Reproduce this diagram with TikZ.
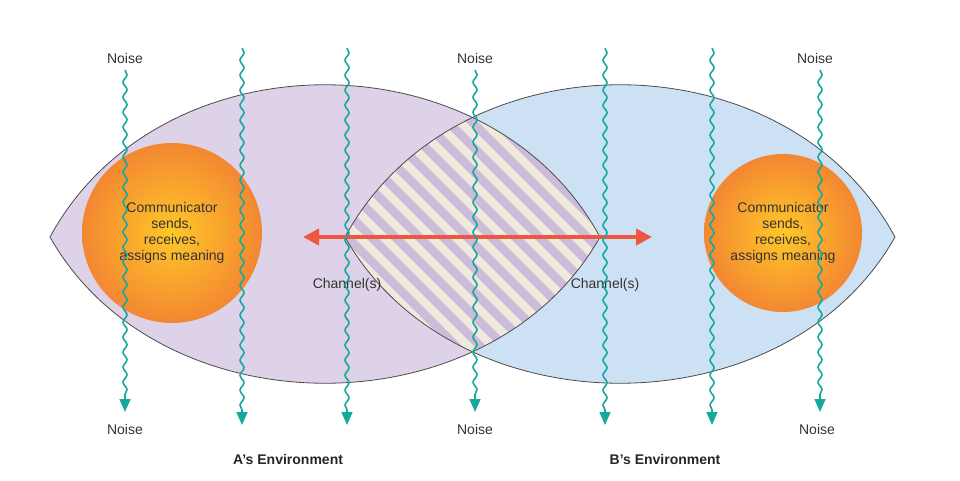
\documentclass[tikz,border=0pt]{standalone}
\usepackage{fontspec}
\setmainfont{Liberation Sans}
\usetikzlibrary{decorations.pathmorphing,arrows.meta}
\definecolor{lensA}{RGB}{221,210,231}
\definecolor{lensB}{RGB}{204,226,244}
\definecolor{stripe}{RGB}{204,188,218}
\definecolor{cream}{RGB}{240,234,222}
\definecolor{teal}{RGB}{22,168,158}
\definecolor{redarrow}{RGB}{238,88,64}
\definecolor{ballin}{RGB}{255,200,40}
\definecolor{ballout}{RGB}{243,135,50}
\begin{document}
\begin{tikzpicture}[x=1pt,y=-1pt,
    lbl/.style={font=\fontsize{14}{16}\selectfont, text=black!80, align=center},
    env/.style={font=\fontsize{14}{16}\selectfont\bfseries, text=black!85},
    noise/.style={teal, line width=1.6pt, -{Triangle[length=13pt,width=11pt]},
        decorate, decoration={snake, amplitude=2pt, segment length=15pt, post length=14pt}},
    ball/.style={circle, inner color=ballin, outer color=ballout}
]
    \useasboundingbox (0,0) rectangle (960,481);
    % Environments
    \def\lensA{(50,237) .. controls (160,34) and (490,34) .. (600,237) .. controls (490,432) and (160,432) .. (50,237) -- cycle}
    \def\lensB{(345,237) .. controls (455,34) and (785,34) .. (895,237) .. controls (785,432) and (455,432) .. (345,237) -- cycle}
    \fill[lensA] \lensA;
    \fill[lensB] \lensB;
    % Channel overlap
    \begin{scope}
        \clip \lensA;
        \clip \lensB;
        \fill[cream] (340,100) rectangle (610,370);
        \foreach \i in {-12,...,20}
            \fill[stripe] (300+\i*24,100) -- ++(12,0) -- ++(300,300) -- ++(-12,0) -- cycle;
    \end{scope}
    \draw[black!70, line width=0.8pt] \lensA;
    \draw[black!70, line width=0.8pt] \lensB;
    % Communicators
    \node[ball, minimum size=180pt] (commA) at (172,233) {};
    \node[ball, minimum size=158pt] (commB) at (783,233) {};
    \node[lbl] (textA) at (172,233) {Communicator\\sends,\\receives,\\assigns meaning};
    \node[lbl] (textB) at (783,233) {Communicator\\sends,\\receives,\\assigns meaning};
    % Channel arrow
    \coordinate (chL) at (303,237);
    \coordinate (chR) at (652,237);
    \draw[redarrow, line width=4pt, {Triangle[length=16pt,width=16pt]}-{Triangle[length=16pt,width=16pt]}] (chL) -- (chR);
    \node[lbl] (chanA) at (347,285) {Channel(s)};
    \node[lbl] (chanB) at (605,285) {Channel(s)};
    % Noise
    \node[lbl] (noiseT1) at (125,58) {Noise};
    \node[lbl] (noiseT2) at (475,58) {Noise};
    \node[lbl] (noiseT3) at (815,58) {Noise};
    \node[lbl] (noiseB1) at (125,429) {Noise};
    \node[lbl] (noiseB2) at (475,429) {Noise};
    \node[lbl] (noiseB3) at (817,429) {Noise};
    \foreach \x/\n in {125/1,475/2,820/3}
        \draw[noise] (\x,70) -- (\x,412);
    \foreach \x in {242,347,605,712}
        \draw[noise] (\x,48) -- (\x,425);
    % Labels
    \node[env] (envA) at (288,459) {A’s Environment};
    \node[env] (envB) at (665,459) {B’s Environment};
\end{tikzpicture}
\end{document}
